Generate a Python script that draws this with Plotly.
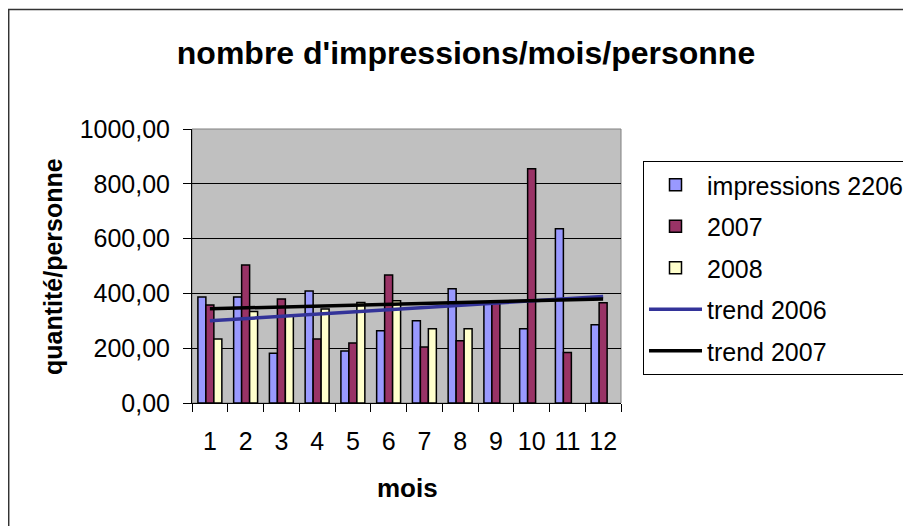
import plotly.graph_objects as go

months = [str(i) for i in range(1, 13)]
imp_2006 = [387, 387, 182, 409, 190, 264, 300, 417, 362, 271, 636, 286]
imp_2007 = [358, 504, 380, 234, 219, 467, 204, 227, 365, 855, 184, 366]
imp_2008 = [234, 334, 318, 343, 367, 373, 271, 271, None, None, None, None]
trend_x = ["1", "12"]
trend_2006 = [300, 389]
trend_2007 = [344, 380]
y_tickvals = [0, 200, 400, 600, 800, 1000]
y_ticktext = ["0,00", "200,00", "400,00", "600,00", "800,00", "1000,00"]

FONT = "Arial, Liberation Sans, sans-serif"

fig = go.Figure()
fig.add_trace(go.Bar(x=months, y=imp_2006, name="impressions 2206",
                     marker=dict(color="#9999FF", line=dict(color="black", width=1.5)),
                     legendgroup="a"))
fig.add_trace(go.Bar(x=months, y=imp_2007, name="2007",
                     marker=dict(color="#993366", line=dict(color="black", width=1.5)),
                     legendgroup="b"))
fig.add_trace(go.Bar(x=months, y=imp_2008, name="2008",
                     marker=dict(color="#FFFFCC", line=dict(color="black", width=1.5)),
                     legendgroup="c"))
fig.add_trace(go.Scatter(x=trend_x, y=trend_2006, name="trend 2006", mode="lines",
                         line=dict(color="#333399", width=3.5), legendgroup="d"))
fig.add_trace(go.Scatter(x=trend_x, y=trend_2007, name="trend 2007", mode="lines",
                         line=dict(color="black", width=3.5), legendgroup="e"))

# page offset of the figure (default body margin)
O = 8
W, H = 911, 526
L, T = 192 - O, 129 - O
pw, ph = 429, 274
R = W - L - pw
B = H - T - ph

def px(x):
    return (x - O - L) / pw

def py(y):
    return (T + ph - (y - O)) / ph

fig.update_layout(
    width=W, height=H,
    margin=dict(l=L, r=R, t=T, b=B, autoexpand=False),
    paper_bgcolor="white",
    plot_bgcolor="#C0C0C0",
    barmode="group",
    bargap=0.33,
    bargroupgap=0,
    font=dict(family=FONT, color="black", size=25),
    title=dict(text="nombre d'impressions/mois/personne",
               font=dict(family=FONT, size=32, color="black", weight="bold"),
               x=(466 - O) / W, xref="container", xanchor="center",
               y=1 - (53 - O) / H, yref="container", yanchor="middle"),
    xaxis=dict(type="category", tickson="boundaries", ticks="outside", ticklen=8,
               tickcolor="black", tickwidth=1, showline=True, linecolor="black",
               linewidth=1, showgrid=False, tickfont=dict(size=25), tickangle=0,
               ticklabelstandoff=16),
    yaxis=dict(range=[0, 1000], tickvals=y_tickvals, ticktext=y_ticktext,
               ticks="outside", ticklen=8, tickcolor="black", showline=True,
               linecolor="black", linewidth=1, showgrid=True, gridcolor="black",
               gridwidth=1, zeroline=False, tickfont=dict(size=25),
               ticklabelstandoff=8),
    legend=dict(xref="container", yref="container",
                x=(643 - O) / W, y=1 - (161 - O) / H, xanchor="left", yanchor="top",
                bordercolor="black", borderwidth=1, bgcolor="white",
                font=dict(family=FONT, size=25, color="black"),
                itemwidth=53, tracegroupgap=6, traceorder="grouped"),
    showlegend=True,
)

# plot area border (top/right in gray)
fig.add_shape(type="rect", xref="paper", yref="paper", x0=0, x1=1, y0=0, y1=1,
              line=dict(color="#808080", width=1), layer="below")
# outer chart frame
fig.add_shape(type="rect", xref="paper", yref="paper",
              x0=px(8.7), x1=px(940), y0=py(560), y1=py(9.5),
              line=dict(color="#333333", width=1.5))

fig.add_annotation(text="<b>mois</b>", xref="paper", yref="paper",
                   x=px(407), y=py(488), showarrow=False,
                   font=dict(family=FONT, size=26, color="black"),
                   xanchor="center", yanchor="middle")
fig.add_annotation(text="<b>quantité/personne</b>", xref="paper", yref="paper",
                   x=px(53), y=py(267), showarrow=False, textangle=-90,
                   font=dict(family=FONT, size=25, color="black"),
                   xanchor="center", yanchor="middle")

fig.write_html("out.html")
